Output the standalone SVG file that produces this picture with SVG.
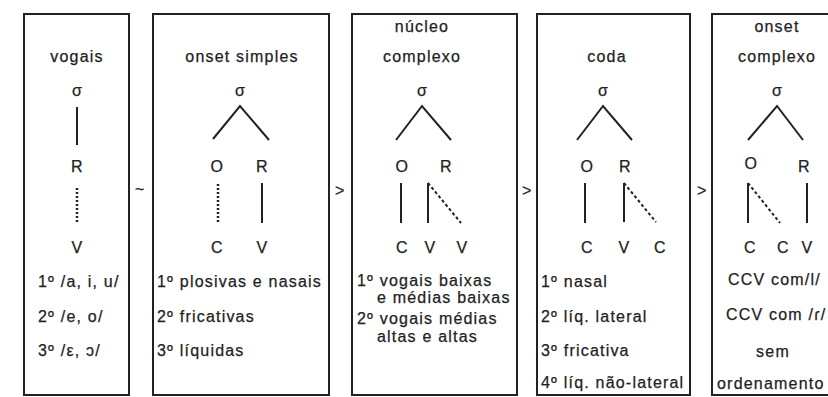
<svg xmlns="http://www.w3.org/2000/svg" width="828" height="397" viewBox="0 0 828 397">
<style>
text{font-family:"Liberation Sans","DejaVu Sans",sans-serif;fill:#222;stroke:#222;stroke-width:0.25;font-size:16px;letter-spacing:1.2px}
.m{text-anchor:middle}
.s{font-size:16px;letter-spacing:0}
.n{letter-spacing:0.5px}
.box{fill:none;stroke:#222;stroke-width:2}
.ln{stroke:#222;stroke-width:2;fill:none}
.dot{stroke:#222;stroke-width:2.5;stroke-dasharray:2 2;fill:none}
.dsh{stroke:#222;stroke-width:2;stroke-dasharray:3 2.5;fill:none}
</style>
<rect width="828" height="397" fill="#fff"/>
<g id="vogais">
<rect class="box" x="24" y="14" width="105" height="381"/>
<text class="m" x="77" y="62">vogais</text>
<text class="m s" x="77" y="96">σ</text>
<line class="ln" x1="77" y1="107" x2="77" y2="145"/>
<text class="m n" x="77" y="172">R</text>
<line class="dot" x1="77" y1="188" x2="77" y2="223"/>
<text class="m n" x="77" y="253">V</text>
<text x="38" y="287">1º /a, i, u/</text>
<text x="38" y="322">2º /e, o/</text>
<text x="38" y="356">3º /ε, ɔ/</text>
</g>
<g id="onset-simples">
<rect class="box" x="153" y="14" width="176" height="381"/>
<text class="m" x="242" y="62">onset simples</text>
<text class="m s" x="240" y="96">σ</text>
<polyline class="ln" points="213,139 240,106 269,140"/>
<text class="m n" x="217" y="172">O</text>
<text class="m n" x="262" y="172">R</text>
<line class="dot" x1="218" y1="184" x2="218" y2="223"/>
<line class="ln" x1="262" y1="183" x2="262" y2="223"/>
<text class="m n" x="217" y="253">C</text>
<text class="m n" x="262" y="253">V</text>
<text x="157" y="287">1º plosivas e nasais</text>
<text x="157" y="322">2º fricativas</text>
<text x="157" y="356">3º líquidas</text>
</g>
<g id="nucleo-complexo">
<rect class="box" x="352" y="14" width="165" height="381"/>
<text class="m" x="422" y="32">núcleo</text>
<text class="m" x="422" y="62">complexo</text>
<text class="m s" x="422" y="96">σ</text>
<polyline class="ln" points="396,140 422,106 451,140"/>
<text class="m n" x="402" y="172">O</text>
<text class="m n" x="446" y="172">R</text>
<line class="ln" x1="401" y1="183" x2="401" y2="223"/>
<line class="ln" x1="428" y1="183" x2="428" y2="223"/>
<line class="dsh" x1="428" y1="183" x2="461" y2="223"/>
<text class="m n" x="402" y="253">C</text>
<text class="m n" x="430" y="253">V</text>
<text class="m n" x="462" y="253">V</text>
<text x="357" y="286">1º vogais baixas</text>
<text x="377" y="303">e médias baixas</text>
<text x="357" y="324">2º vogais médias</text>
<text x="377" y="342">altas e altas</text>
</g>
<g id="coda">
<rect class="box" x="537" y="14" width="153" height="381"/>
<text class="m" x="607" y="62">coda</text>
<text class="m s" x="603" y="96">σ</text>
<polyline class="ln" points="577,140 603,106 632,140"/>
<text class="m n" x="587" y="172">O</text>
<text class="m n" x="625" y="172">R</text>
<line class="ln" x1="585" y1="183" x2="585" y2="223"/>
<line class="ln" x1="624" y1="183" x2="624" y2="222"/>
<line class="dsh" x1="624" y1="183" x2="656" y2="222"/>
<text class="m n" x="587" y="253">C</text>
<text class="m n" x="624" y="253">V</text>
<text class="m n" x="660" y="253">C</text>
<text x="541" y="287">1º nasal</text>
<text x="541" y="322">2º líq. lateral</text>
<text x="541" y="356">3º fricativa</text>
<text x="541" y="388">4º líq. não-lateral</text>
</g>
<g id="onset-complexo">
<rect class="box" x="712" y="14" width="130" height="381"/>
<text class="m" x="777" y="32">onset</text>
<text class="m" x="777" y="62">complexo</text>
<text class="m s" x="777" y="96">σ</text>
<polyline class="ln" points="748,140 777,106 803,140"/>
<text class="m n" x="751" y="169">O</text>
<text class="m n" x="804" y="172">R</text>
<line class="ln" x1="748" y1="183" x2="748" y2="223"/>
<line class="dsh" x1="748" y1="183" x2="780" y2="223"/>
<line class="ln" x1="807" y1="183" x2="807" y2="223"/>
<text class="m n" x="750" y="253">C</text>
<text class="m n" x="783" y="253">C</text>
<text class="m n" x="807" y="253">V</text>
<text x="728" y="285">CCV com/l/</text>
<text x="726" y="320">CCV com /ɾ/</text>
<text class="m" x="773" y="357">sem</text>
<text x="717" y="389">ordenamento</text>
</g>
<g id="connectors">
<text class="m n" x="140" y="195">~</text>
<text class="m n" x="340" y="196">&gt;</text>
<text class="m n" x="527" y="196">&gt;</text>
<text class="m n" x="702" y="196">&gt;</text>
</g>
</svg>
